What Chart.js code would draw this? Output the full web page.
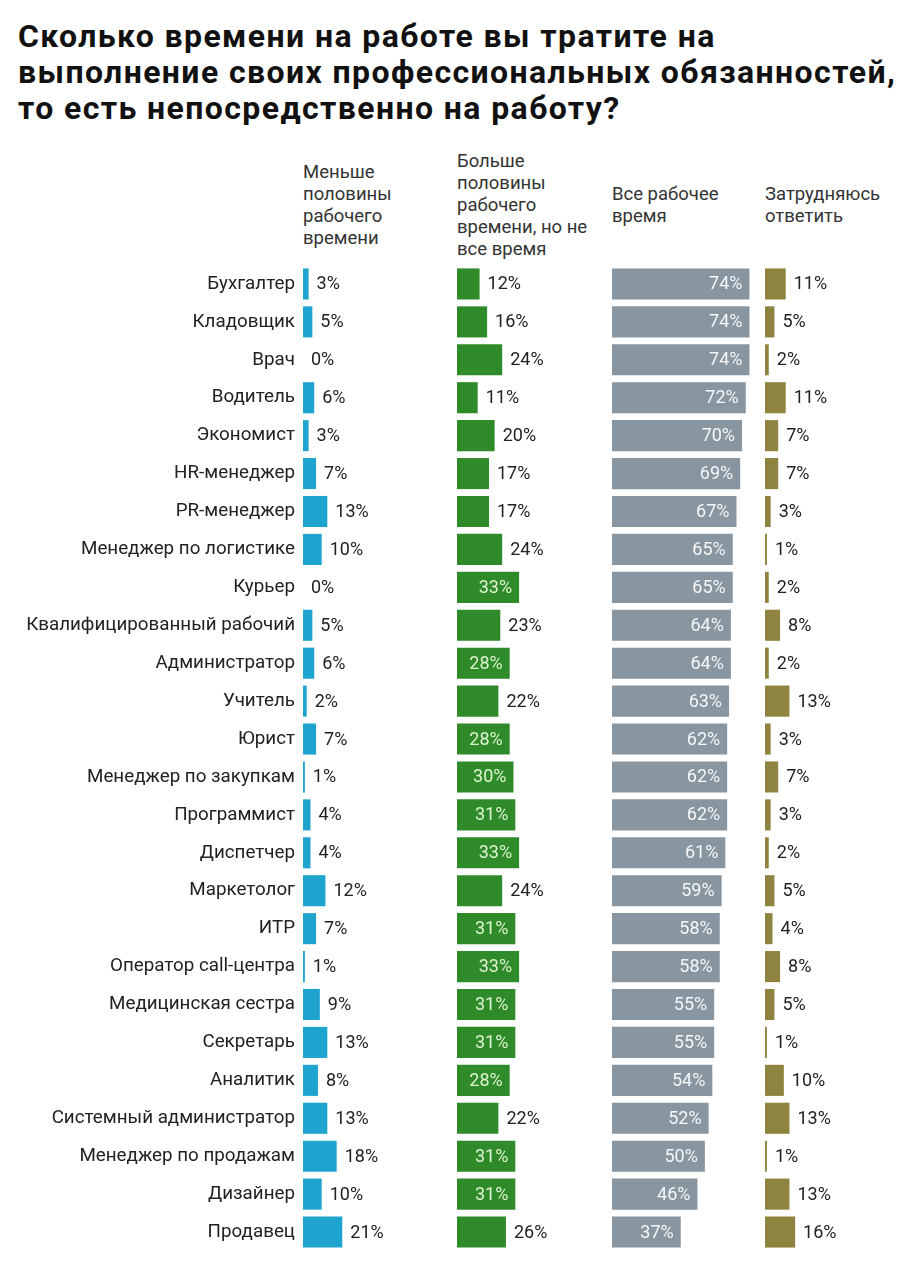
<!DOCTYPE html>
<html lang="ru">
<head>
<meta charset="utf-8">
<script src="https://cdn.jsdelivr.net/npm/chart.js@4.4.1/dist/chart.umd.min.js"></script>
<style>
  html, body { margin: 0; padding: 0; background: #fff; }
  body { width: 920px; height: 1280px; position: relative; overflow: hidden; font-family: Roboto, "Noto Sans", sans-serif; }
  h1 { position: absolute; left: 18px; top: 18px; margin: 0; font-size: 32px; line-height: 36px; font-weight: 700; color: #111; letter-spacing: 1.4px; white-space: nowrap; }
  .head { position: absolute; top: 205px; transform: translateY(-50%); font-size: 18.5px; line-height: 22px; color: #333; white-space: nowrap; }
  .box { position: absolute; top: 265px; height: 986px; }
</style>
</head>
<body>
<h1>Сколько времени на работе вы тратите на<br>выполнение своих профессиональных обязанностей,<br>то есть непосредственно на работу?</h1>

<div class="head" style="left:303px">Меньше<br>половины<br>рабочего<br>времени</div>
<div class="head" style="left:457px">Больше<br>половины<br>рабочего<br>времени, но не<br>все время</div>
<div class="head" style="left:612px">Все рабочее<br>время</div>
<div class="head" style="left:765px">Затрудняюсь<br>ответить</div>

<div class="box" style="left:0;width:457px"><canvas id="c1"></canvas></div>
<div class="box" style="left:457px;width:155px"><canvas id="c2"></canvas></div>
<div class="box" style="left:612px;width:153px"><canvas id="c3"></canvas></div>
<div class="box" style="left:765px;width:155px"><canvas id="c4"></canvas></div>

<script>
// data
const jobs = ['Бухгалтер', 'Кладовщик', 'Врач', 'Водитель', 'Экономист', 'HR-менеджер', 'PR-менеджер',
  'Менеджер по логистике', 'Курьер', 'Квалифицированный рабочий', 'Администратор', 'Учитель', 'Юрист',
  'Менеджер по закупкам', 'Программист', 'Диспетчер', 'Маркетолог', 'ИТР', 'Оператор call-центра',
  'Медицинская сестра', 'Секретарь', 'Аналитик', 'Системный администратор', 'Менеджер по продажам',
  'Дизайнер', 'Продавец'];
const lessHalf = [3, 5, 0, 6, 3, 7, 13, 10, 0, 5, 6, 2, 7, 1, 4, 4, 12, 7, 1, 9, 13, 8, 13, 18, 10, 21];
const moreHalf = [12, 16, 24, 11, 20, 17, 17, 24, 33, 23, 28, 22, 28, 30, 31, 33, 24, 31, 33, 31, 31, 28, 22, 31, 31, 26];
const allTime = [74, 74, 74, 72, 70, 69, 67, 65, 65, 64, 64, 63, 62, 62, 62, 61, 59, 58, 58, 55, 55, 54, 52, 50, 46, 37];
const dontKnow = [11, 5, 2, 11, 7, 7, 3, 1, 2, 8, 2, 13, 3, 7, 3, 2, 5, 4, 8, 5, 1, 10, 13, 1, 13, 16];

const PX_PER_PCT = 1.87;
const COL_W = 154;

// value labels next to / inside bars
const valueLabels = {
  id: 'valueLabels',
  afterDatasetsDraw(chart, args, opts) {
    const ctx = chart.ctx;
    const meta = chart.getDatasetMeta(0);
    const data = chart.data.datasets[0].data;
    ctx.save();
    ctx.font = '18px Roboto, "Noto Sans", sans-serif';
    ctx.textBaseline = 'middle';
    meta.data.forEach((bar, i) => {
      const v = data[i];
      const txt = v + '%';
      const inside = opts.mode === 'inside' || (opts.mode === 'auto' && v >= opts.min);
      if (inside) {
        ctx.fillStyle = opts.insideColor;
        ctx.textAlign = 'right';
        ctx.fillText(txt, bar.x - 7, bar.y + 1);
      } else {
        ctx.fillStyle = '#222';
        ctx.textAlign = 'left';
        ctx.fillText(txt, bar.x + 8, bar.y + 1);
      }
    });
    ctx.restore();
  }
};

function makeChart(id, values, color, labelOpts, withLabels) {
  const yAxis = {
    display: withLabels,
    grid: { display: false, drawTicks: false },
    border: { display: false },
    ticks: {
      color: '#222',
      padding: 8,
      font: { family: 'Roboto', size: 18.8 },
    },
  };
  if (withLabels) {
    yAxis.afterFit = function (scale) {
      scale.width = 303;
      scale.paddingTop = 0;
      scale.paddingBottom = 0;
    };
  }
  new Chart(document.getElementById(id), {
    type: 'bar',
    data: {
      labels: jobs,
      datasets: [{
        data: values,
        backgroundColor: color,
        borderWidth: 0,
        categoryPercentage: 1,
        barPercentage: 0.82,
      }]
    },
    options: {
      indexAxis: 'y',
      responsive: true,
      maintainAspectRatio: false,
      animation: false,
      layout: { padding: 0 },
      plugins: {
        legend: { display: false },
        tooltip: { enabled: false },
        valueLabels: labelOpts,
      },
      scales: {
        x: {
          display: false,
          min: 0,
          max: COL_W / PX_PER_PCT,
        },
        y: yAxis
      }
    },
    plugins: [valueLabels]
  });
}

makeChart('c1', lessHalf, '#1ea4cf', { mode: 'outside' }, true);
makeChart('c2', moreHalf, '#2f8a2a', { mode: 'auto', min: 27, insideColor: '#dcf3cf' }, false);
makeChart('c3', allTime, '#8796a0', { mode: 'inside', insideColor: '#f5f7f8' }, false);
makeChart('c4', dontKnow, '#8f843f', { mode: 'outside' }, false);
</script>
</body>
</html>
